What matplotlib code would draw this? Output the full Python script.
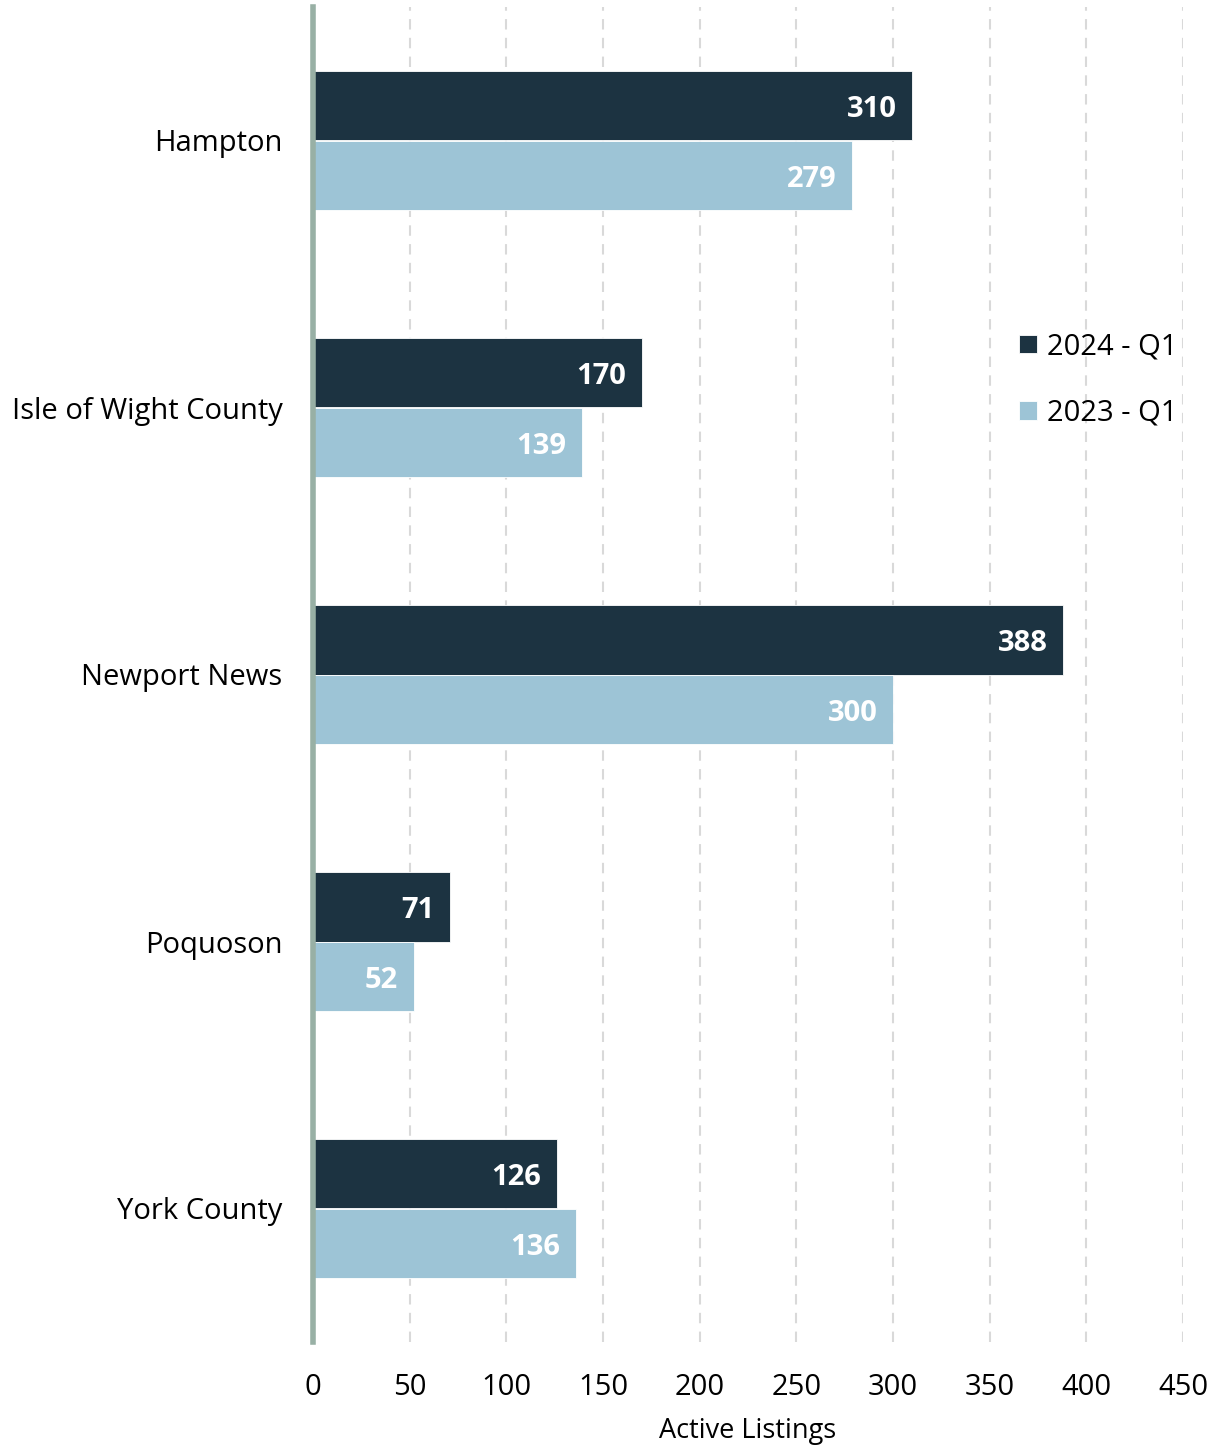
import numpy as np
import matplotlib.pyplot as plt

# Active listings by locality, Q1 comparison
areas = ["Hampton", "Isle of Wight County", "Newport News", "Poquoson", "York County"]
q1_2024 = [310, 170, 388, 71, 126]
q1_2023 = [279, 139, 300, 52, 136]
x_ticks = [0, 50, 100, 150, 200, 250, 300, 350, 400, 450]

dark = "#1c3341"
light = "#9dc4d6"

plt.rcParams["font.family"] = ["Open Sans", "DejaVu Sans"]
plt.rcParams["font.size"] = 21

fig = plt.figure(figsize=(12.19, 14.47), dpi=100)
ax = fig.add_axes([313 / 1219, 1 - 1342 / 1447, 870 / 1219, 1335 / 1447])

y = np.arange(len(areas))
h = 0.26
b1 = ax.barh(y - h / 2, q1_2024, height=h, color=dark, edgecolor="white", linewidth=0.6,
             label="2024 - Q1", zorder=3)
b2 = ax.barh(y + h / 2, q1_2023, height=h, color=light, edgecolor="white", linewidth=0.6,
             label="2023 - Q1", zorder=3)

# value labels inside the bar ends
for bars in (b1, b2):
    for bar in bars:
        w = bar.get_width()
        ax.text(w - 8, bar.get_y() + bar.get_height() / 2 + 0.015, f"{w:.0f}",
                ha="right", va="center", color="white", fontweight="bold", zorder=4)

ax.set_xlim(0, 450)
ax.set_ylim(len(areas) - 0.5, -0.5)
ax.set_xticks(x_ticks)
ax.set_yticks(y)
ax.set_yticklabels(areas)
ax.tick_params(axis="both", length=0)
ax.tick_params(axis="x", pad=22)
ax.tick_params(axis="y", pad=22)

ax.grid(axis="x", color="#d9d9d9", linestyle=(0, (5, 4)), linewidth=1.5, zorder=0)
for s in ["top", "right", "bottom"]:
    ax.spines[s].set_visible(False)
ax.spines["left"].set_color("#98b0a5")
ax.spines["left"].set_linewidth(4)
ax.spines["left"].set_zorder(5)

ax.set_xlabel("Active Listings", fontsize=19.5, labelpad=11)

fig.legend(loc="center left", bbox_to_anchor=(1019 / 1219, 1 - 380 / 1447), frameon=False,
           handlelength=0.6, handleheight=0.6, handletextpad=0.35, labelspacing=1.3,
           borderpad=0, borderaxespad=0)

fig.savefig("out.png", dpi=100)
